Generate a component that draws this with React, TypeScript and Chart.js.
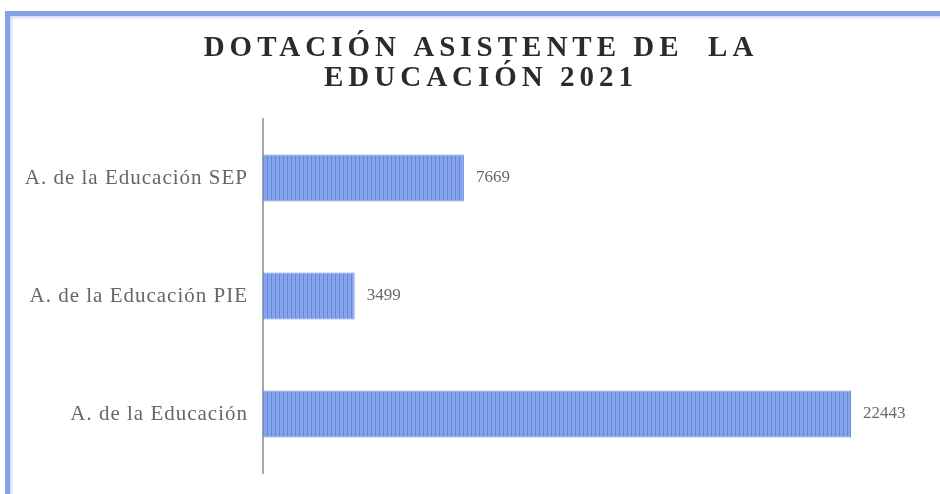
import React, { useEffect, useRef } from "react";
import { Chart, registerables } from "chart.js";

Chart.register(...registerables);

const titleLines = ["DOTACIÓN ASISTENTE DE  LA", "EDUCACIÓN 2021"];
const categories = ["A. de la Educación SEP", "A. de la Educación PIE", "A. de la Educación"];
const values = [7669, 3499, 22443];

function makeStripePattern(): CanvasPattern | string {
  const c = document.createElement("canvas");
  c.width = 4;
  c.height = 4;
  const g = c.getContext("2d");
  if (!g) return "#86a3ea";
  g.fillStyle = "#86a4ec";
  g.fillRect(0, 0, 4, 4);
  g.fillStyle = "#6686d6";
  g.fillRect(3, 0, 1, 4);
  const p = g.createPattern(c, "repeat");
  return p || "#86a3ea";
}

const spacingPlugin = {
  id: "spacingPlugin",
  beforeDraw(chart: any) {
    (chart.ctx as any).letterSpacing = "1px";
  },
};

const titlePlugin = {
  id: "customTitle",
  afterDraw(chart: any) {
    const ctx = chart.ctx;
    ctx.save();
    (ctx as any).letterSpacing = "5px";
    ctx.font = "bold 29px 'Liberation Serif', serif";
    ctx.fillStyle = "#2b2b2b";
    ctx.textAlign = "center";
    ctx.textBaseline = "alphabetic";
    const cx = 481;
    ctx.fillText(titleLines[0], cx, 56);
    ctx.fillText(titleLines[1], cx, 86);
    ctx.restore();
  },
};

const valueLabelPlugin = {
  id: "valueLabels",
  afterDatasetsDraw(chart: any) {
    const ctx = chart.ctx;
    const meta = chart.getDatasetMeta(0);
    ctx.save();
    (ctx as any).letterSpacing = "0px";
    ctx.font = "17px 'Liberation Serif', serif";
    ctx.fillStyle = "#6a6a6a";
    ctx.textAlign = "left";
    ctx.textBaseline = "middle";
    meta.data.forEach((bar: any, i: number) => {
      ctx.fillText(String(values[i]), bar.x + 12, bar.y);
    });
    ctx.restore();
  },
};

export default function App() {
  const ref = useRef<HTMLCanvasElement | null>(null);

  useEffect(() => {
    document.body.style.margin = "0";
    if (!ref.current) return;
    const chart = new Chart(ref.current, {
      type: "bar",
      data: {
        labels: categories,
        datasets: [
          {
            data: values,
            backgroundColor: makeStripePattern() as any,
            borderColor: "#6f8edc",
            borderWidth: 1,
            categoryPercentage: 1,
            barPercentage: 0.4,
          },
        ],
      },
      options: {
        indexAxis: "y",
        animation: false,
        responsive: false,
        maintainAspectRatio: false,
        layout: { padding: { left: 0, top: 119, right: 22, bottom: 21 } },
        plugins: {
          legend: { display: false },
          tooltip: { enabled: false },
          title: { display: false },
        },
        scales: {
          x: {
            display: false,
            min: 0,
            max: 25000,
          },
          y: {
            afterFit(scale: any) {
              scale.width = 263;
              scale.paddingTop = 0;
              scale.paddingBottom = 0;
            },
            grid: { display: false, drawTicks: false },
            border: { display: true, color: "#a8a8a8", width: 2 },
            ticks: {
              color: "#666666",
              padding: 15,
              font: { family: "'Liberation Serif', serif", size: 21 },
            },
          },
        },
      },
      plugins: [spacingPlugin, titlePlugin, valueLabelPlugin],
    });
    return () => chart.destroy();
  }, []);

  return (
    <div style={{ position: "fixed", left: 0, top: 0, width: 940, height: 494, background: "#ffffff", overflow: "hidden" }}>
      <div
        style={{
          position: "absolute",
          left: 5,
          top: 11,
          width: 940,
          height: 490,
          borderTop: "5px solid #86a0e4",
          borderLeft: "5px solid #86a0e4",
          boxShadow: "inset 2px 2px 3px rgba(120,150,225,0.35)",
          boxSizing: "border-box",
        }}
      />
      <canvas ref={ref} width={940} height={494} style={{ position: "absolute", left: 0, top: 0, width: 940, height: 494 }} />
    </div>
  );
}
